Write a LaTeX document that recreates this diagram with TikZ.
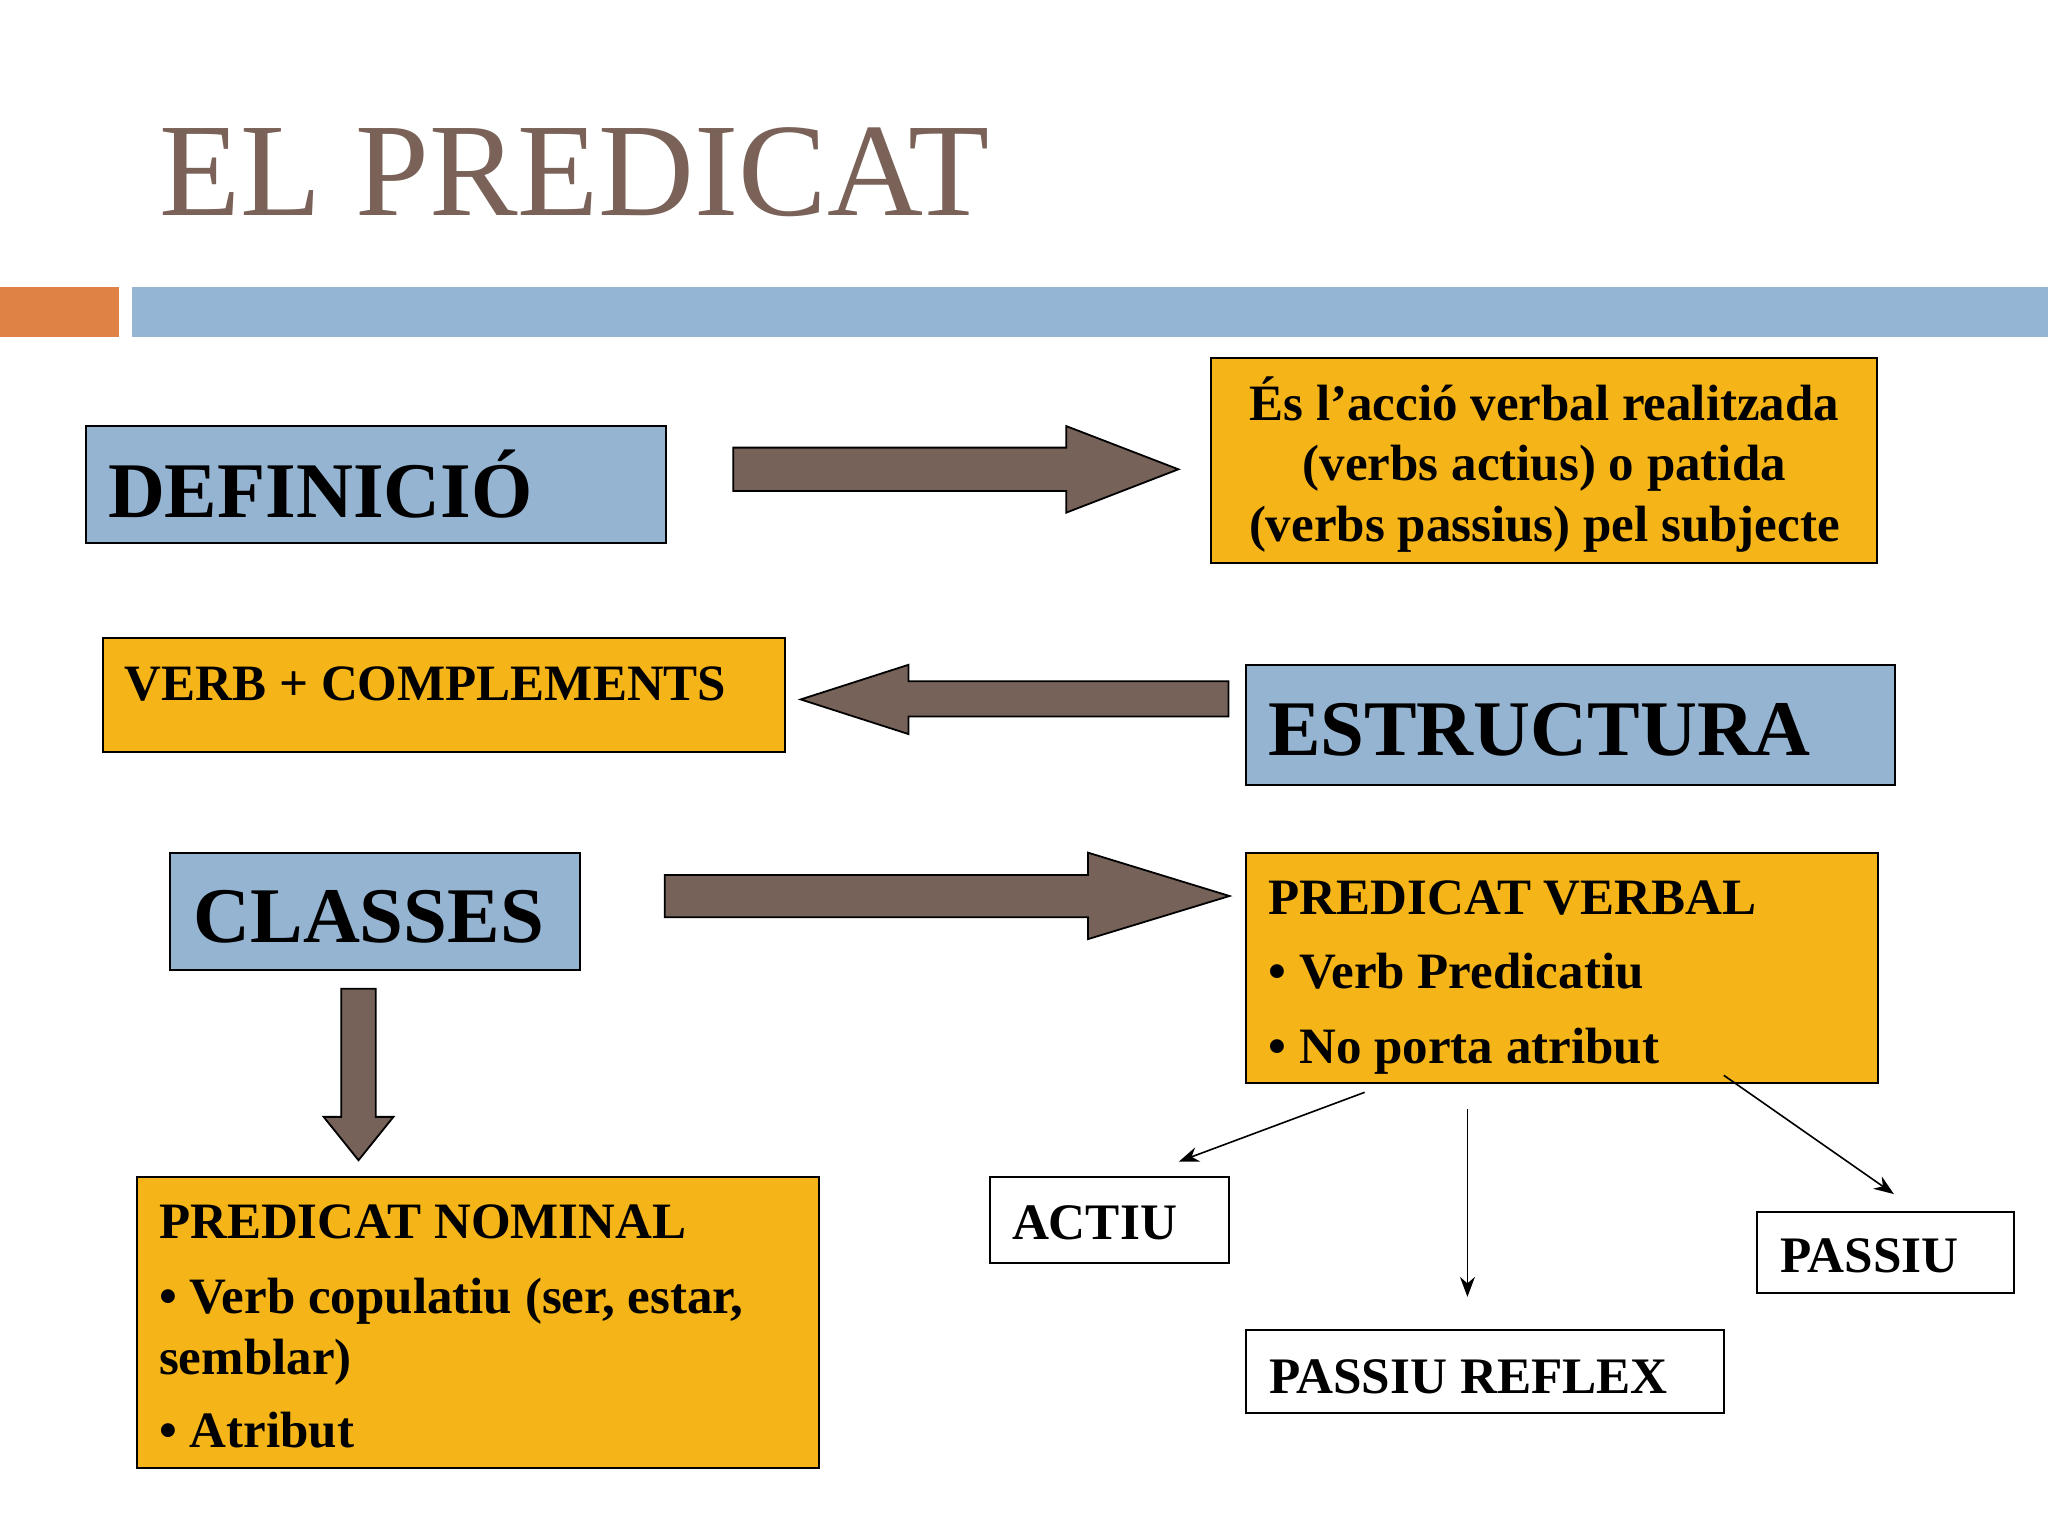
\documentclass[tikz,border=0pt]{standalone}
\usepackage{fontspec}
\setmainfont{Liberation Serif}
\usetikzlibrary{fit,arrows.meta}
\definecolor{titlebrown}{HTML}{7A6258}
\definecolor{barorange}{HTML}{DF8246}
\definecolor{barblue}{HTML}{94B5D4}
\definecolor{boxblue}{HTML}{95B4D2}
\definecolor{boxyellow}{HTML}{F5B418}
\definecolor{arrowbrown}{HTML}{77625A}
\tikzset{
  boxbase/.style={draw=black, line width=1pt, inner sep=0pt},
  bluebox/.style={boxbase, fill=boxblue},
  yellowbox/.style={boxbase, fill=boxyellow},
  whitebox/.style={boxbase, fill=white},
  bigtxt/.style={font=\bfseries\fontsize{39.4}{47}\selectfont, inner sep=0pt, anchor=base west},
  medtxt/.style={font=\bfseries\fontsize{25.5}{30}\selectfont, inner sep=0pt, anchor=base west},
  smalltxt/.style={font=\bfseries\fontsize{25.6}{30}\selectfont, inner sep=0pt, anchor=base west},
  blockarrow/.style={draw=black, line width=0.9pt, fill=arrowbrown, line join=miter},
  thinarrow/.style={draw=black, line width=0.8pt, -{Stealth[length=10pt,width=7.5pt]}}
}
\begin{document}
\begin{tikzpicture}[x=0.65306pt, y=-0.65306pt]
\useasboundingbox[fill=white] (0,0) rectangle (1568,1176);

% title and bars
\node[font=\fontsize{66.4}{80}\selectfont, text=titlebrown, inner sep=0pt, anchor=base west] (title) at (122,165) {EL PREDICAT};
\fill[barorange] (0,220) rectangle (91,258);
\fill[barblue] (101,220) rectangle (1568,258);

% boxes
\node[bluebox, fit={(65.6,326.2) (509.8,415.5)}] (def) {};
\node[bigtxt] (deft) at (82.4,396) {DEFINICIÓ};

\node[yellowbox, fit={(927.4,274.4) (1437.4,431.3)}] (defbox) {};
\node[medtxt, anchor=base] (defl1) at (1182.4,321.6) {És l’acció verbal realitzada};
\node[medtxt, anchor=base] (defl2) at (1182.4,367.5) {(verbs actius) o patida};
\node[medtxt, anchor=base] (defl3) at (1182.4,414.7) {(verbs passius) pel subjecte};

\node[yellowbox, fit={(78.5,488.7) (600.7,575.5)}] (verb) {};
\node[medtxt] (verbt) at (95.3,536.5) {VERB + COMPLEMENTS};

\node[bluebox, fit={(953.7,509.1) (1450.6,601)}] (estr) {};
\node[bigtxt] (estrt) at (970.5,578.5) {ESTRUCTURA};

\node[bluebox, fit={(129.9,652.8) (444.4,742.3)}] (cls) {};
\node[bigtxt] (clst) at (147.9,721.8) {CLASSES};

\node[yellowbox, fit={(953.6,652.8) (1437.6,828.8)}] (pv) {};
\node[medtxt] (pv1) at (971,700) {PREDICAT VERBAL};
\node[medtxt] (pv2) at (971,757) {• Verb Predicatiu};
\node[medtxt] (pv3) at (971,814) {• No porta atribut};

\node[yellowbox, fit={(104.6,901.2) (626.8,1124.1)}] (pn) {};
\node[medtxt] (pn1) at (121.5,948) {PREDICAT NOMINAL};
\node[medtxt] (pn2) at (121.5,1005.5) {• Verb copulatiu (ser, estar,};
\node[medtxt] (pn3) at (121.5,1052) {semblar)};
\node[medtxt] (pn4) at (121.5,1108) {• Atribut};

\node[whitebox, fit={(757.9,901.3) (940.7,967.2)}] (act) {};
\node[smalltxt] (actt) at (774.5,949) {ACTIU};

\node[whitebox, fit={(953.6,1018.5) (1319.8,1082)}] (pref) {};
\node[smalltxt] (preft) at (971.3,1066.5) {PASSIU REFLEX};

\node[whitebox, fit={(1345.5,927.6) (1541.8,990.1)}] (pas) {};
\node[smalltxt] (past) at (1362.7,974.5) {PASSIU};

% block arrows
\draw[blockarrow] (561.4,342.7) -- (816.3,342.7) -- (816.3,326.2) -- (902.2,359.3) -- (816.3,392.5) -- (816.3,375.9) -- (561.4,375.9) -- cycle;
\draw[blockarrow] (940.6,521.5) -- (695.5,521.5) -- (695.5,509) -- (613,535.5) -- (695.5,562) -- (695.5,548.5) -- (940.6,548.5) -- cycle;
\draw[blockarrow] (508.9,669.9) -- (833,669.9) -- (833,652.8) -- (941.3,686) -- (833,719) -- (833,702.3) -- (508.9,702.3) -- cycle;
\draw[blockarrow] (261.3,757) -- (287.7,757) -- (287.7,855.1) -- (301.2,855.1) -- (274.5,888.3) -- (247.8,855.1) -- (261.3,855.1) -- cycle;

% thin arrows
\coordinate (a1s) at (1044.8,836.3);
\coordinate (a1e) at (902.6,889.3);
\coordinate (a2s) at (1123.5,849);
\coordinate (a2e) at (1123.5,992.9);
\coordinate (a3s) at (1319.8,823.3);
\coordinate (a3e) at (1450,914.2);
\draw[thinarrow] (a1s) -- (a1e);
\draw[thinarrow] (a2s) -- (a2e);
\draw[thinarrow] (a3s) -- (a3e);
\end{tikzpicture}
\end{document}
